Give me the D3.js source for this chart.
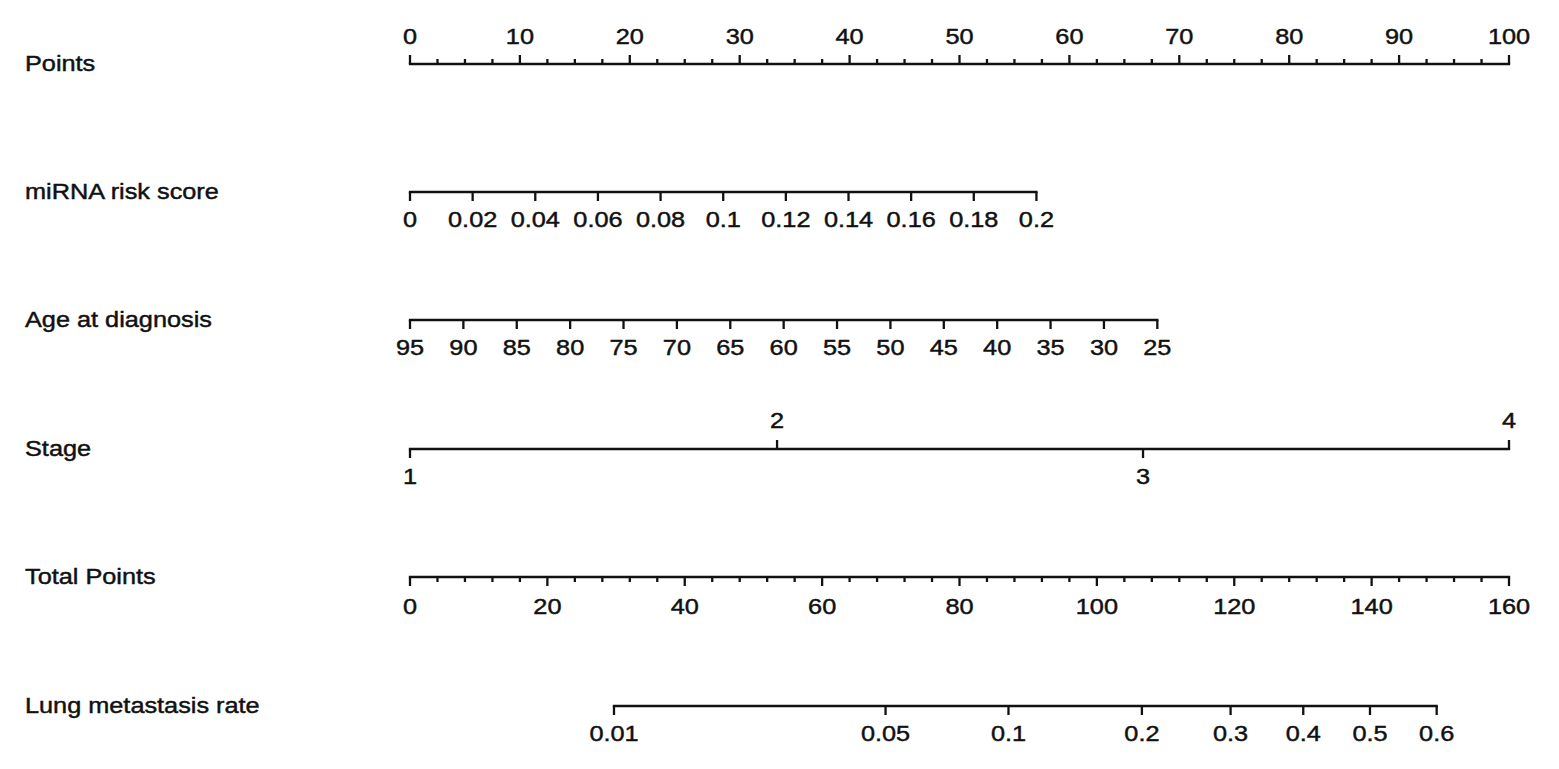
<!DOCTYPE html>
<html><head><meta charset="utf-8">
<script src="https://cdn.jsdelivr.net/npm/d3@7"></script>
<style>body{margin:0;background:#fff}svg{display:block}</style>
</head><body>
<script>
// ---- data ----
const rowLabels = ["Points","miRNA risk score","Age at diagnosis","Stage","Total Points","Lung metastasis rate"];
const pointsTicks = [0,10,20,30,40,50,60,70,80,90,100];
const mirnaTicks = [0,0.02,0.04,0.06,0.08,0.1,0.12,0.14,0.16,0.18,0.2];
const mirnaPointsAtMax = 57;           // points for score 0.2
const ageTicks = [95,90,85,80,75,70,65,60,55,50,45,40,35,30,25];
const agePointsAtMin = 68;              // points for age 25
const stageLevels = ["1","2","3","4"];
const stagePoints = [0,33.4,66.7,100];
const totalTicks = [0,20,40,60,80,100,120,140,160];
const rateTicks = [0.01,0.05,0.1,0.2,0.3,0.4,0.5,0.6];
const lpSlope = 0.04175;                // logit per total point
const lpCenter = 139.76;                // total points at rate 0.5

const W = 1559, H = 769;
const svg = d3.select("body").append("svg").attr("width",W).attr("height",H);
const xPts = d3.scaleLinear().domain([0,100]).range([410,1509]);
const xTot = d3.scaleLinear().domain([0,160]).range([410,1509]);
const mirnaToPts = d3.scaleLinear().domain([0,0.2]).range([0,mirnaPointsAtMax]);
const ageToPts = d3.scaleLinear().domain([95,25]).range([0,agePointsAtMin]);
const logit = p => Math.log(p/(1-p));
const rateX = p => xTot(lpCenter + logit(p)/lpSlope);

const rowY = [64,192,320,449,577,706];
const FS = 22, SX = 1.15, SW = 2.3, MAJ = 9, MIN = 5, LOFF = 28;
const col = "#111";

function txt(x,y,s,anchor){
  svg.append("text")
    .attr("transform",`translate(${x},${y}) scale(${SX},1)`)
    .attr("text-anchor",anchor||"middle")
    .attr("dominant-baseline","central")
    .attr("font-family","'Liberation Sans', Arial, Helvetica, sans-serif")
    .attr("font-size",FS).attr("fill",col)
    .attr("stroke",col).attr("stroke-width",0.45)
    .text(s);
}
function hline(x1,x2,y){
  svg.append("line").attr("x1",x1).attr("x2",x2).attr("y1",y).attr("y2",y)
    .attr("stroke",col).attr("stroke-width",SW).attr("stroke-linecap","square");
}
function tick(x,y,len){ // len negative = up
  svg.append("line").attr("x1",x).attr("x2",x).attr("y1",y).attr("y2",y+len)
    .attr("stroke",col).attr("stroke-width",SW);
}
const fmt = v => String(+v.toFixed(4));

// row labels
rowLabels.forEach((l,i)=>txt(25,rowY[i]-0.5,l,"start"));

// Points
{
  const y=rowY[0];
  hline(xPts(0),xPts(100),y);
  d3.range(0,100.01,2.5).forEach(v=>tick(xPts(v),y,(v%10===0)?-MAJ:-MIN));
  pointsTicks.forEach(v=>txt(xPts(v),y-LOFF+0.5,fmt(v)));
}
// miRNA
{
  const y=rowY[1];
  hline(xPts(mirnaToPts(0)),xPts(mirnaToPts(0.2)),y);
  mirnaTicks.forEach(v=>{const x=xPts(mirnaToPts(v));tick(x,y,MAJ);txt(x,y+LOFF,fmt(v));});
}
// Age
{
  const y=rowY[2];
  hline(xPts(ageToPts(95)),xPts(ageToPts(25)),y);
  ageTicks.forEach(v=>{const x=xPts(ageToPts(v));tick(x,y,MAJ);txt(x,y+LOFF,fmt(v));});
}
// Stage
{
  const y=rowY[3];
  hline(xPts(stagePoints[0]),xPts(stagePoints[3]),y);
  stageLevels.forEach((s,i)=>{
    const x=xPts(stagePoints[i]); const up = (i%2===1);
    tick(x,y,up?-MAJ:MAJ); txt(x,y+(up?-LOFF:LOFF),s);
  });
}
// Total Points
{
  const y=rowY[4];
  hline(xTot(0),xTot(160),y);
  d3.range(0,160.01,4).forEach(v=>tick(xTot(v),y,(v%20===0)?MAJ:MIN));
  totalTicks.forEach(v=>txt(xTot(v),y+30,fmt(v)));
}
// Lung metastasis rate
{
  const y=rowY[5];
  hline(rateX(rateTicks[0]),rateX(rateTicks[rateTicks.length-1]),y);
  rateTicks.forEach(v=>{const x=rateX(v);tick(x,y,MAJ);txt(x,y+LOFF,fmt(v));});
}
</script>
</body></html>
